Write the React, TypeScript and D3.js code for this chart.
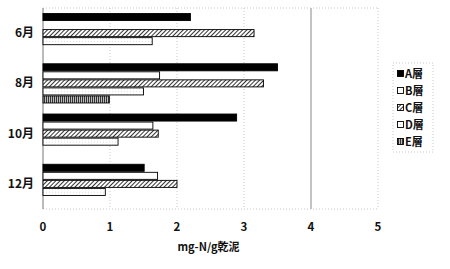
import React from "react";
import * as d3 from "d3";

const categories = ["6月", "8月", "10月", "12月"];
const seriesNames = ["A層", "B層", "C層", "D層", "E層"];
// values per series, aligned with categories (null = no bar)
const seriesA = [2.2, 3.5, 2.89, 1.51];
const seriesB = [null, 1.74, 1.64, 1.71];
const seriesC = [3.15, 3.29, 1.72, 2.0];
const seriesD = [1.63, 1.5, 1.12, 0.93];
const seriesE = [null, 0.99, null, null];
const xTicks = [0, 1, 2, 3, 4, 5];
const xTitle = "mg-N/g乾泥";

const allSeries = [seriesA, seriesB, seriesC, seriesD, seriesE];
const fills = ["#000", "#fff", "url(#hatchC)", "url(#dotsD)", "url(#stripeE)"];

export default function App() {
  const W = 450, H = 269;
  const left = 43, right = 378, top = 8, bottom = 209;
  const x = d3.scaleLinear().domain([0, 5]).range([left, right]);
  const y0 = d3.scaleBand<string>().domain(categories).range([top, bottom]).paddingInner(0.2).paddingOuter(0.1);
  const y1 = d3.scaleBand<string>().domain(seriesNames).range([0, y0.bandwidth()]).padding(0);
  const font = "'Noto Sans CJK JP', 'Liberation Sans', sans-serif";
  const legendY = d3.scaleLinear().domain([0, 4]).range([74, 142]);

  return (
    <svg width={W} height={H} style={{ position: "absolute", left: 0, top: 0, background: "#fff" }} fontFamily={font}>
      <defs>
        <pattern id="hatchC" width="3" height="3" patternUnits="userSpaceOnUse" patternTransform="rotate(45)">
          <rect width="3" height="3" fill="#fff" />
          <line x1="0" y1="0" x2="0" y2="3" stroke="#000" strokeWidth="1.6" />
        </pattern>
        <pattern id="dotsD" width="3" height="3" patternUnits="userSpaceOnUse">
          <rect width="3" height="3" fill="#fff" />
          <rect x="1" y="1" width="1" height="1" fill="#ddd" />
        </pattern>
        <pattern id="stripeE" width="2" height="2" patternUnits="userSpaceOnUse">
          <rect width="2" height="2" fill="#bbb" />
          <rect x="0" y="0" width="1" height="2" fill="#333" />
        </pattern>
      </defs>
      <rect x={0} y={0} width={W} height={H} fill="#fff" />
      {/* grid */}
      {xTicks.slice(1).map((t) => (
        <line key={t} x1={x(t)} x2={x(t)} y1={top} y2={bottom}
          stroke={t === 4 ? "#888" : "#bbb"} strokeWidth={t === 4 ? 1 : 0.8}
          strokeDasharray={t === 4 ? undefined : "1,2"} />
      ))}
      <line x1={left} x2={right} y1={top} y2={top} stroke="#bbb" strokeWidth={0.8} strokeDasharray="1,2" />
      <line x1={left} x2={right} y1={bottom} y2={bottom} stroke="#bbb" strokeWidth={0.8} strokeDasharray="1,2" />
      <line x1={left} x2={left} y1={top} y2={bottom} stroke="#777" strokeWidth={1} />
      {/* bars */}
      {categories.map((c, ci) => (
        <g key={c} transform={`translate(0,${y0(c)})`}>
          {allSeries.map((s, si) => {
            const v = s[ci];
            if (v == null) return null;
            return (
              <rect key={si} x={x(0)} y={y1(seriesNames[si])! + 0.5} width={x(v) - x(0)} height={y1.bandwidth() - 1}
                fill={fills[si]} stroke="#000" strokeWidth={0.9} />
            );
          })}
        </g>
      ))}
      {/* category labels */}
      {categories.map((c) => (
        <text key={c} x={34} y={y0(c)! + y0.bandwidth() / 2 + 4} textAnchor="end"
          fontSize={12} fontWeight="bold" fill="#111">{c}</text>
      ))}
      {/* x tick labels */}
      {xTicks.map((t) => (
        <text key={t} x={x(t)} y={231} textAnchor="middle" fontSize={11.5} fontWeight="bold" fill="#111">{t}</text>
      ))}
      <text x={(left + right) / 2 - 2} y={251} textAnchor="middle" fontSize={11} fontWeight="bold" fill="#111">{xTitle}</text>
      {/* legend */}
      <rect x={393} y={63} width={40} height={89} fill="none" stroke="#bbb" strokeWidth={0.8} strokeDasharray="1,2" />
      {seriesNames.map((n, i) => (
        <g key={n}>
          <rect x={397.5} y={legendY(i) - 3.5} width={6} height={6} fill={fills[i]} stroke="#000" strokeWidth={0.9} />
          <text x={405} y={legendY(i) + 4} fontSize={11} fontWeight="bold" fill="#111">{n}</text>
        </g>
      ))}
    </svg>
  );
}
